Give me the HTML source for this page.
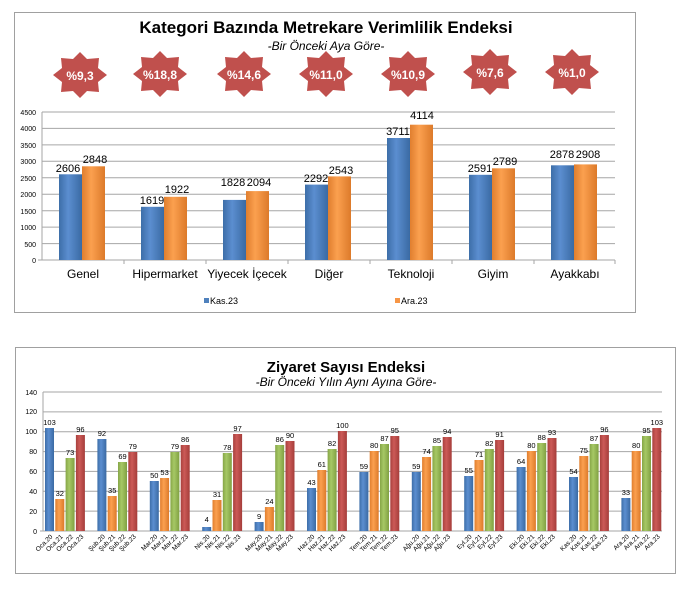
<!DOCTYPE html>
<html><head><meta charset="utf-8"><style>
html,body{margin:0;padding:0;background:#fff;}
svg{display:block;font-family:"Liberation Sans",sans-serif;}
</style></head><body>
<svg width="694" height="594" viewBox="0 0 694 594" xmlns="http://www.w3.org/2000/svg">
<defs>
<linearGradient id="gb" x1="0" x2="1"><stop offset="0" stop-color="#3d6ea8"/><stop offset=".4" stop-color="#5b8ed0"/><stop offset="1" stop-color="#3a6aa3"/></linearGradient>
<linearGradient id="go" x1="0" x2="1"><stop offset="0" stop-color="#e07e2e"/><stop offset=".4" stop-color="#fba04f"/><stop offset="1" stop-color="#dc7a2a"/></linearGradient>
<linearGradient id="gg" x1="0" x2="1"><stop offset="0" stop-color="#86a647"/><stop offset=".4" stop-color="#a6c865"/><stop offset="1" stop-color="#80a042"/></linearGradient>
<linearGradient id="gr" x1="0" x2="1"><stop offset="0" stop-color="#a8403d"/><stop offset=".4" stop-color="#cc5a57"/><stop offset="1" stop-color="#a53d3a"/></linearGradient>
<polygon id="star" points="0,-23 7,-16 19,-17 18,-7 27,0 18,7 19,17 7,16 0,23 -7,16 -19,17 -18,7 -27,0 -18,-7 -19,-17 -7,-16" fill="#c0504d"/>
</defs>

<!-- TOP CHART -->
<rect x="14.5" y="12.5" width="621" height="300" fill="#fff" stroke="#a0a0a0"/>
<text x="326" y="33" font-size="17" font-weight="bold" text-anchor="middle" fill="#000">Kategori Bazında Metrekare Verimlilik Endeksi</text>
<text x="326" y="50" font-size="12" font-style="italic" text-anchor="middle" fill="#000">-Bir Önceki Aya Göre-</text>
<g font-size="12" font-weight="bold" fill="#fff" text-anchor="middle">
<use href="#star" x="80" y="75"/><text x="80" y="80">%9,3</text>
<use href="#star" x="160" y="74"/><text x="160" y="79">%18,8</text>
<use href="#star" x="244" y="74"/><text x="244" y="79">%14,6</text>
<use href="#star" x="326" y="74"/><text x="326" y="79">%11,0</text>
<use href="#star" x="408" y="74"/><text x="408" y="79">%10,9</text>
<use href="#star" x="490" y="72"/><text x="490" y="77">%7,6</text>
<use href="#star" x="572" y="72"/><text x="572" y="77">%1,0</text>
</g>
<g stroke="#a6a6a6" stroke-width="1">
<line x1="42" x2="615" y1="112" y2="112"/><line x1="42" x2="615" y1="128.4" y2="128.4"/><line x1="42" x2="615" y1="144.9" y2="144.9"/><line x1="42" x2="615" y1="161.3" y2="161.3"/><line x1="42" x2="615" y1="177.8" y2="177.8"/><line x1="42" x2="615" y1="194.2" y2="194.2"/><line x1="42" x2="615" y1="210.7" y2="210.7"/><line x1="42" x2="615" y1="227.1" y2="227.1"/><line x1="42" x2="615" y1="243.6" y2="243.6"/><line x1="38" x2="615" y1="260" y2="260"/>
<line x1="42" x2="42" y1="112" y2="260"/>
<line x1="124" x2="124" y1="260" y2="264"/><line x1="206" x2="206" y1="260" y2="264"/><line x1="288" x2="288" y1="260" y2="264"/><line x1="370" x2="370" y1="260" y2="264"/><line x1="452" x2="452" y1="260" y2="264"/><line x1="534" x2="534" y1="260" y2="264"/><line x1="615" x2="615" y1="260" y2="264"/>
</g>
<g font-size="7" text-anchor="end" fill="#000">
<text x="36" y="115">4500</text><text x="36" y="131">4000</text><text x="36" y="148">3500</text><text x="36" y="164">3000</text><text x="36" y="181">2500</text><text x="36" y="197">2000</text><text x="36" y="214">1500</text><text x="36" y="230">1000</text><text x="36" y="247">500</text><text x="36" y="263">0</text>
</g>
<g>
<rect x="59" y="174.3" width="23" height="85.7" fill="url(#gb)"/><rect x="82" y="166.3" width="23" height="93.7" fill="url(#go)"/>
<rect x="141" y="206.8" width="23" height="53.2" fill="url(#gb)"/><rect x="164" y="196.8" width="23" height="63.2" fill="url(#go)"/>
<rect x="223" y="199.9" width="23" height="60.1" fill="url(#gb)"/><rect x="246" y="191.1" width="23" height="68.9" fill="url(#go)"/>
<rect x="305" y="184.6" width="23" height="75.4" fill="url(#gb)"/><rect x="328" y="176.4" width="23" height="83.6" fill="url(#go)"/>
<rect x="387" y="138" width="23" height="122" fill="url(#gb)"/><rect x="410" y="124.7" width="23" height="135.3" fill="url(#go)"/>
<rect x="469" y="174.8" width="23" height="85.2" fill="url(#gb)"/><rect x="492" y="168.3" width="23" height="91.7" fill="url(#go)"/>
<rect x="551" y="165.3" width="23" height="94.7" fill="url(#gb)"/><rect x="574" y="164.4" width="23" height="95.6" fill="url(#go)"/>
</g>
<g font-size="11" text-anchor="middle" fill="#000">
<text x="68" y="172">2606</text><text x="95" y="163">2848</text>
<text x="152" y="204">1619</text><text x="177" y="193">1922</text>
<text x="233" y="186">1828</text><text x="259" y="186">2094</text>
<text x="316" y="182">2292</text><text x="341" y="174">2543</text>
<text x="398" y="135">3711</text><text x="422" y="119">4114</text>
<text x="480" y="172">2591</text><text x="505" y="165">2789</text>
<text x="562" y="158">2878</text><text x="588" y="158">2908</text>
</g>
<g font-size="12" text-anchor="middle" fill="#000">
<text x="83" y="278">Genel</text><text x="165" y="278">Hipermarket</text><text x="247" y="278">Yiyecek İçecek</text><text x="329" y="278">Diğer</text><text x="411" y="278">Teknoloji</text><text x="493" y="278">Giyim</text><text x="575" y="278">Ayakkabı</text>
</g>
<rect x="204" y="298" width="5" height="5" fill="#4f81bd"/><text x="210" y="304" font-size="9">Kas.23</text>
<rect x="395" y="298" width="5" height="5" fill="#f79646"/><text x="401" y="304" font-size="9">Ara.23</text>

<!-- BOTTOM CHART -->
<rect x="15.5" y="347.5" width="660" height="226" fill="#fff" stroke="#a0a0a0"/>
<text x="346" y="372" font-size="15" font-weight="bold" text-anchor="middle">Ziyaret Sayısı Endeksi</text>
<text x="346" y="386" font-size="12" font-style="italic" text-anchor="middle">-Bir Önceki Yılın Aynı Ayına Göre-</text>
<g stroke="#a6a6a6">
<line x1="43" x2="662" y1="392" y2="392"/><line x1="43" x2="662" y1="411.9" y2="411.9"/><line x1="43" x2="662" y1="431.7" y2="431.7"/><line x1="43" x2="662" y1="451.6" y2="451.6"/><line x1="43" x2="662" y1="471.4" y2="471.4"/><line x1="43" x2="662" y1="491.3" y2="491.3"/><line x1="43" x2="662" y1="511.1" y2="511.1"/><line x1="40" x2="662" y1="531" y2="531"/>
<line x1="43" x2="43" y1="392" y2="531"/>
</g>
<g font-size="7" text-anchor="end">
<text x="37" y="395">140</text><text x="37" y="414">120</text><text x="37" y="434">100</text><text x="37" y="454">80</text><text x="37" y="474">60</text><text x="37" y="494">40</text><text x="37" y="514">20</text><text x="37" y="534">0</text>
</g>
<g font-size="7.5" text-anchor="middle">
<g transform="translate(45,0)"><rect x="0" y="428" width="9" height="103" fill="url(#gb)"/><rect x="10.3" y="499" width="9" height="32" fill="url(#go)"/><rect x="20.6" y="458" width="9" height="73" fill="url(#gg)"/><rect x="30.9" y="435" width="9" height="96" fill="url(#gr)"/><text x="4.5" y="425">103</text><text x="14.8" y="496">32</text><text x="25.1" y="455">73</text><text x="35.4" y="432">96</text></g>
<g transform="translate(97.4,0)"><rect x="0" y="439" width="9" height="92" fill="url(#gb)"/><rect x="10.3" y="496" width="9" height="35" fill="url(#go)"/><rect x="20.6" y="462" width="9" height="69" fill="url(#gg)"/><rect x="30.9" y="452" width="9" height="79" fill="url(#gr)"/><text x="4.5" y="436">92</text><text x="14.8" y="493">35</text><text x="25.1" y="459">69</text><text x="35.4" y="449">79</text></g>
<g transform="translate(149.8,0)"><rect x="0" y="481" width="9" height="50" fill="url(#gb)"/><rect x="10.3" y="478" width="9" height="53" fill="url(#go)"/><rect x="20.6" y="452" width="9" height="79" fill="url(#gg)"/><rect x="30.9" y="445" width="9" height="86" fill="url(#gr)"/><text x="4.5" y="478">50</text><text x="14.8" y="475">53</text><text x="25.1" y="449">79</text><text x="35.4" y="442">86</text></g>
<g transform="translate(202.2,0)"><rect x="0" y="527" width="9" height="4" fill="url(#gb)"/><rect x="10.3" y="500" width="9" height="31" fill="url(#go)"/><rect x="20.6" y="453" width="9" height="78" fill="url(#gg)"/><rect x="30.9" y="434" width="9" height="97" fill="url(#gr)"/><text x="4.5" y="522">4</text><text x="14.8" y="497">31</text><text x="25.1" y="450">78</text><text x="35.4" y="431">97</text></g>
<g transform="translate(254.6,0)"><rect x="0" y="522" width="9" height="9" fill="url(#gb)"/><rect x="10.3" y="507" width="9" height="24" fill="url(#go)"/><rect x="20.6" y="445" width="9" height="86" fill="url(#gg)"/><rect x="30.9" y="441" width="9" height="90" fill="url(#gr)"/><text x="4.5" y="519">9</text><text x="14.8" y="504">24</text><text x="25.1" y="442">86</text><text x="35.4" y="438">90</text></g>
<g transform="translate(307,0)"><rect x="0" y="488" width="9" height="43" fill="url(#gb)"/><rect x="10.3" y="470" width="9" height="61" fill="url(#go)"/><rect x="20.6" y="449" width="9" height="82" fill="url(#gg)"/><rect x="30.9" y="431" width="9" height="100" fill="url(#gr)"/><text x="4.5" y="485">43</text><text x="14.8" y="467">61</text><text x="25.1" y="446">82</text><text x="35.4" y="428">100</text></g>
<g transform="translate(359.4,0)"><rect x="0" y="472" width="9" height="59" fill="url(#gb)"/><rect x="10.3" y="451" width="9" height="80" fill="url(#go)"/><rect x="20.6" y="444" width="9" height="87" fill="url(#gg)"/><rect x="30.9" y="436" width="9" height="95" fill="url(#gr)"/><text x="4.5" y="469">59</text><text x="14.8" y="448">80</text><text x="25.1" y="441">87</text><text x="35.4" y="433">95</text></g>
<g transform="translate(411.8,0)"><rect x="0" y="472" width="9" height="59" fill="url(#gb)"/><rect x="10.3" y="457" width="9" height="74" fill="url(#go)"/><rect x="20.6" y="446" width="9" height="85" fill="url(#gg)"/><rect x="30.9" y="437" width="9" height="94" fill="url(#gr)"/><text x="4.5" y="469">59</text><text x="14.8" y="454">74</text><text x="25.1" y="443">85</text><text x="35.4" y="434">94</text></g>
<g transform="translate(464.2,0)"><rect x="0" y="476" width="9" height="55" fill="url(#gb)"/><rect x="10.3" y="460" width="9" height="71" fill="url(#go)"/><rect x="20.6" y="449" width="9" height="82" fill="url(#gg)"/><rect x="30.9" y="440" width="9" height="91" fill="url(#gr)"/><text x="4.5" y="473">55</text><text x="14.8" y="457">71</text><text x="25.1" y="446">82</text><text x="35.4" y="437">91</text></g>
<g transform="translate(516.6,0)"><rect x="0" y="467" width="9" height="64" fill="url(#gb)"/><rect x="10.3" y="451" width="9" height="80" fill="url(#go)"/><rect x="20.6" y="443" width="9" height="88" fill="url(#gg)"/><rect x="30.9" y="438" width="9" height="93" fill="url(#gr)"/><text x="4.5" y="464">64</text><text x="14.8" y="448">80</text><text x="25.1" y="440">88</text><text x="35.4" y="435">93</text></g>
<g transform="translate(569,0)"><rect x="0" y="477" width="9" height="54" fill="url(#gb)"/><rect x="10.3" y="456" width="9" height="75" fill="url(#go)"/><rect x="20.6" y="444" width="9" height="87" fill="url(#gg)"/><rect x="30.9" y="435" width="9" height="96" fill="url(#gr)"/><text x="4.5" y="474">54</text><text x="14.8" y="453">75</text><text x="25.1" y="441">87</text><text x="35.4" y="432">96</text></g>
<g transform="translate(621.4,0)"><rect x="0" y="498" width="9" height="33" fill="url(#gb)"/><rect x="10.3" y="451" width="9" height="80" fill="url(#go)"/><rect x="20.6" y="436" width="9" height="95" fill="url(#gg)"/><rect x="30.9" y="428" width="9" height="103" fill="url(#gr)"/><text x="4.5" y="495">33</text><text x="14.8" y="448">80</text><text x="25.1" y="433">95</text><text x="35.4" y="425">103</text></g>
</g>
<g font-size="6.5" text-anchor="end">
<text transform="translate(53,537) rotate(-45)">Oca.20</text><text transform="translate(63.3,537) rotate(-45)">Oca.21</text><text transform="translate(73.6,537) rotate(-45)">Oca.22</text><text transform="translate(83.9,537) rotate(-45)">Oca.23</text>
<text transform="translate(105.4,537) rotate(-45)">Şub.20</text><text transform="translate(115.7,537) rotate(-45)">Şub.21</text><text transform="translate(126,537) rotate(-45)">Şub.22</text><text transform="translate(136.3,537) rotate(-45)">Şub.23</text>
<text transform="translate(157.8,537) rotate(-45)">Mar.20</text><text transform="translate(168.1,537) rotate(-45)">Mar.21</text><text transform="translate(178.4,537) rotate(-45)">Mar.22</text><text transform="translate(188.7,537) rotate(-45)">Mar.23</text>
<text transform="translate(210.2,537) rotate(-45)">Nis.20</text><text transform="translate(220.5,537) rotate(-45)">Nis.21</text><text transform="translate(230.8,537) rotate(-45)">Nis.22</text><text transform="translate(241.1,537) rotate(-45)">Nis.23</text>
<text transform="translate(262.6,537) rotate(-45)">May.20</text><text transform="translate(272.9,537) rotate(-45)">May.21</text><text transform="translate(283.2,537) rotate(-45)">May.22</text><text transform="translate(293.5,537) rotate(-45)">May.23</text>
<text transform="translate(315,537) rotate(-45)">Haz.20</text><text transform="translate(325.3,537) rotate(-45)">Haz.21</text><text transform="translate(335.6,537) rotate(-45)">Haz.22</text><text transform="translate(345.9,537) rotate(-45)">Haz.23</text>
<text transform="translate(367.4,537) rotate(-45)">Tem.20</text><text transform="translate(377.7,537) rotate(-45)">Tem.21</text><text transform="translate(388,537) rotate(-45)">Tem.22</text><text transform="translate(398.3,537) rotate(-45)">Tem.23</text>
<text transform="translate(419.8,537) rotate(-45)">Ağu.20</text><text transform="translate(430.1,537) rotate(-45)">Ağu.21</text><text transform="translate(440.4,537) rotate(-45)">Ağu.22</text><text transform="translate(450.7,537) rotate(-45)">Ağu.23</text>
<text transform="translate(472.2,537) rotate(-45)">Eyl.20</text><text transform="translate(482.5,537) rotate(-45)">Eyl.21</text><text transform="translate(492.8,537) rotate(-45)">Eyl.22</text><text transform="translate(503.1,537) rotate(-45)">Eyl.23</text>
<text transform="translate(524.6,537) rotate(-45)">Eki.20</text><text transform="translate(534.9,537) rotate(-45)">Eki.21</text><text transform="translate(545.2,537) rotate(-45)">Eki.22</text><text transform="translate(555.5,537) rotate(-45)">Eki.23</text>
<text transform="translate(577,537) rotate(-45)">Kas.20</text><text transform="translate(587.3,537) rotate(-45)">Kas.21</text><text transform="translate(597.6,537) rotate(-45)">Kas.22</text><text transform="translate(607.9,537) rotate(-45)">Kas.23</text>
<text transform="translate(629.4,537) rotate(-45)">Ara.20</text><text transform="translate(639.7,537) rotate(-45)">Ara.21</text><text transform="translate(650,537) rotate(-45)">Ara.22</text><text transform="translate(660.3,537) rotate(-45)">Ara.23</text>
</g>
</svg>
</body></html>
